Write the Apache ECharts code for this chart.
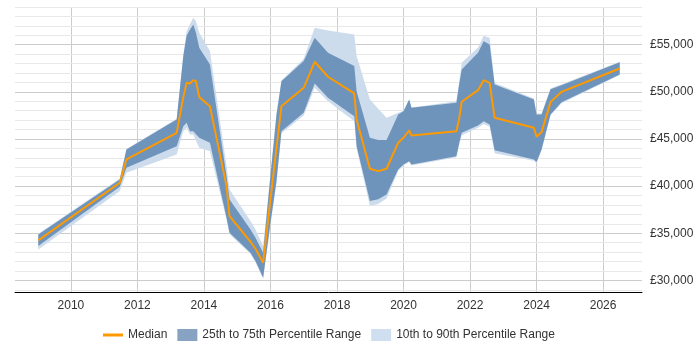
<!DOCTYPE html>
<html>
<head>
<meta charset="utf-8">
<script src="https://cdn.jsdelivr.net/npm/echarts@6/dist/echarts.min.js"></script>
<style>
  html, body { margin: 0; padding: 0; background: #fff; }
  #main { width: 700px; height: 350px; }
</style>
</head>
<body>
<div id="main"></div>
<script>
// values
var years = [2009.02, 2011.47, 2011.67, 2013.18, 2013.38, 2013.48, 2013.58, 2013.68, 2013.76, 2013.86,
  2014.18, 2014.68, 2014.77, 2015.40, 2015.55, 2015.78, 2016.00, 2016.18, 2016.33, 2017.00,
  2017.33, 2017.73, 2018.52, 2018.59, 2018.99, 2019.24, 2019.49, 2019.84, 2020.00, 2020.17,
  2020.24, 2021.59, 2021.67, 2021.75, 2022.24, 2022.41, 2022.59, 2022.74, 2023.92, 2024.00,
  2024.15, 2024.42, 2024.75, 2026.50];
var p10 = [33290, 39470, 41420, 43360, 45830, 46190, 45480, 45480, 44800, 44070,
  43710, 36400, 34900, 32800, 31900, 30200, 35900, 40300, 45600, 47500,
  50430, 49000, 46890, 44000, 37880, 38100, 38700, 41600, 42200, 42550,
  42200, 43050, 44300, 45400, 46200, 46600, 46300, 43500, 42700, 42400,
  43800, 47500, 48800, 51800];
var p25 = [33640, 39940, 41950, 44240, 46360, 46720, 45830, 45830, 45500, 45130,
  44600, 36650, 35060, 32940, 32050, 30290, 36100, 40500, 45830, 47780,
  50890, 49370, 47420, 44240, 38410, 38600, 39100, 41770, 42300, 42650,
  42300, 43180, 44500, 45660, 46440, 46890, 46540, 43800, 42830, 42550,
  43890, 47600, 48900, 51850];
var median = [34240, 40360, 42830, 45660, 49440, 50970, 50890, 51240, 51130, 49440,
  48480, 40000, 36820, 34100, 33360, 31880, 38590, 44000, 48480, 50430,
  53190, 51600, 49830, 47070, 41840, 41590, 41840, 44600, 45130, 45910,
  45380, 45830, 47070, 48950, 50180, 51240, 50960, 47250, 46190, 45240,
  45730, 48910, 50000, 52480];
var p75 = [34880, 40710, 43890, 47070, 53790, 55980, 56600, 57150, 56270, 54680,
  52910, 41060, 38590, 35410, 34530, 32940, 41100, 47500, 51130, 53260,
  55740, 54150, 52730, 50070, 45130, 44880, 44880, 47600, 47950, 49190,
  48310, 48840, 50700, 52380, 54150, 55380, 55030, 50780, 49190, 47600,
  47600, 50280, 50700, 53150];
var p90 = [34950, 40800, 43950, 47150, 53900, 56440, 57200, 57860, 57500, 56270,
  54320, 42120, 39650, 36290, 35410, 33640, 41300, 47700, 51200, 53500,
  56800, 56500, 56090, 53790, 49190, 48200, 47250, 47780, 48000, 49190,
  48350, 49000, 51000, 53080, 54700, 55950, 55740, 50950, 49300, 47700,
  47700, 50350, 50800, 53200];

var darkBlue = '#6f94bb';
var lightBlue = '#cddcec';

var myChart = echarts.init(document.getElementById('main'));

// one polygon per band: upper edge forward, lower edge back
function bandSeries(name, lo, hi, color, z) {
  return {
    name: name,
    type: 'custom',
    z: z,
    silent: true,
    itemStyle: { color: color },
    encode: { x: 0, y: [1, 2] },
    data: years.map(function (y, i) { return [y, lo[i], hi[i]]; }),
    renderItem: function (params, api) {
      if (params.dataIndex !== 0) return;
      var pts = [];
      for (var i = 0; i < years.length; i++) pts.push(api.coord([years[i], hi[i]]));
      for (var j = years.length - 1; j >= 0; j--) pts.push(api.coord([years[j], lo[j]]));
      return {
        type: 'polygon',
        shape: { points: pts },
        style: { fill: color }
      };
    }
  };
}

option = {
  animation: false,
  textStyle: { fontFamily: 'Liberation Sans, Arial, sans-serif' },
  grid: { left: 15, right: 58, top: 7, bottom: 58 },
  legend: {
    left: 98,
    bottom: 4,
    itemWidth: 20,
    itemHeight: 12,
    itemGap: 10,
    textStyle: { fontSize: 12, color: '#333' },
    data: [
      { name: 'Median', icon: 'path://M0,0L20,0L20,3L0,3Z', itemStyle: { color: '#ff9900' } },
      { name: '25th to 75th Percentile Range', icon: 'rect', itemStyle: { color: '#86a3c4' } },
      { name: '10th to 90th Percentile Range', icon: 'rect', itemStyle: { color: '#d0dff0' } }
    ]
  },
  xAxis: {
    type: 'value',
    min: 2008.32,
    max: 2027.17,
    minInterval: 2,
    maxInterval: 2,
    axisLine: { show: true, lineStyle: { color: '#000', width: 1 } },
    axisTick: { show: false },
    axisLabel: {
      fontSize: 12,
      color: '#333',
      margin: 8,
      formatter: function (v) { return (Math.abs(v - Math.round(v)) < 1e-6 && Math.round(v) % 2 === 0) ? String(Math.round(v)) : ''; }
    },
    splitLine: { show: true, showMinLine: false, showMaxLine: false, lineStyle: { color: '#cccccc' } }
  },
  yAxis: [
    {
      type: 'value',
      position: 'right',
      min: 28770,
      max: 59000,
      minInterval: 5000,
      maxInterval: 5000,
      axisLine: { show: false },
      axisTick: { show: false },
      axisLabel: {
        fontSize: 12,
        color: '#333',
        margin: 8,
        formatter: function (v) { return v % 5000 === 0 ? '£' + v.toLocaleString('en-GB') : ''; }
      },
      splitLine: { show: true, showMinLine: false, showMaxLine: false, lineStyle: { color: '#cccccc' } },
      z: 2
    },
    {
      type: 'value',
      position: 'right',
      min: 28770,
      max: 59000,
      minInterval: 1000,
      maxInterval: 1000,
      axisLine: { show: false },
      axisTick: { show: false },
      axisLabel: { show: false },
      splitLine: { show: true, showMinLine: false, lineStyle: { color: '#e8e8e8' } },
      z: 1
    }
  ],
  series: [
    bandSeries('10th to 90th Percentile Range', p10, p90, lightBlue, 3),
    bandSeries('25th to 75th Percentile Range', p25, p75, darkBlue, 4),
    {
      name: 'Median', type: 'line', symbol: 'none', z: 5,
      itemStyle: { color: '#ff9900' },
      lineStyle: { color: '#ff9900', width: 2 },
      data: years.map(function (y, i) { return [y, median[i]]; })
    }
  ]
};

myChart.setOption(option);
</script>
</body>
</html>
